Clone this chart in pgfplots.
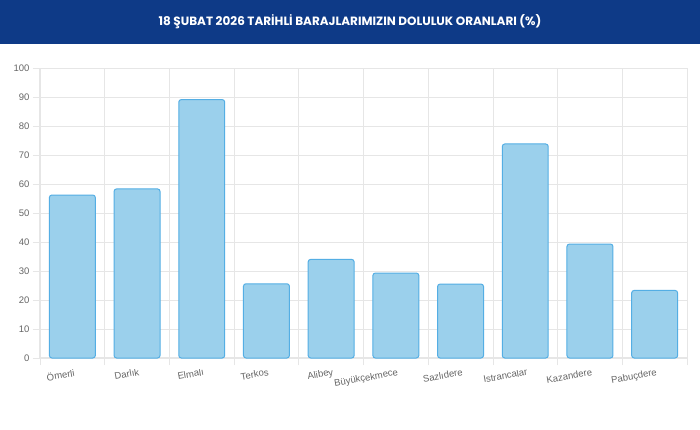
\documentclass[border=0pt]{standalone}
\usepackage{fontspec}
\setmainfont{Liberation Sans}
\newfontfamily\titlefont{Poppins}
\usepackage{pgfplots}
\pgfplotsset{compat=1.18}

\definecolor{titleblue}{RGB}{14,58,135}
\definecolor{barfill}{RGB}{155,208,236}
\definecolor{barline}{RGB}{84,174,228}
\definecolor{gridgray}{RGB}{230,230,230}
\definecolor{labelgray}{RGB}{102,102,102}

\begin{document}
\begin{tikzpicture}
\fill[white] (0pt,0pt) rectangle (700pt,-430pt);
\fill[titleblue] (0pt,0pt) rectangle (700pt,-44pt);
\node[text=white, font=\titlefont\bfseries\fontsize{12}{14}\selectfont] at (350pt,-22pt)
  {18 ŞUBAT 2026 TARİHLİ BARAJLARIMIZIN DOLULUK ORANLARI (\%)};
\begin{axis}[
    at={(40pt,-358pt)}, anchor=south west,
    scale only axis, width=647pt, height=290pt,
    ybar, bar width=0.71,
    xmin=-0.5, xmax=9.5,
    ymin=0, ymax=100,
    ytick={0,10,...,100},
    xtick={-0.5,0.5,1.5,2.5,3.5,4.5,5.5,6.5,7.5,8.5,9.5},
    xticklabels={},
    extra x ticks={0,1,2,3,4,5,6,7,8,9},
    extra x tick labels={Ömerli,Darlık,Elmalı,Terkos,Alibey,Büyükçekmece,Sazlıdere,Istrancalar,Kazandere,Pabuçdere},
    extra x tick style={major tick length=0pt, grid=none,
        tick label style={rotate=10, anchor=north east, yshift=-7pt, xshift=3pt}},
    xmajorgrids, ymajorgrids,
    grid style={gridgray, line width=0.8pt},
    axis x line=bottom, axis y line=left,
    axis line style={-, draw=gridgray, line width=1.2pt},
    tick align=outside, major tick length=7pt,
    tick style={gridgray, line width=0.8pt},
    tick label style={font=\fontsize{9.5}{11}\selectfont, text=labelgray},
    /pgf/number format/assume math mode=true,
    clip=false,
]
\addplot[fill=barfill, draw=barline, line width=1pt, rounded corners=2.5pt]
coordinates {
    (0,56.2) (1,58.3) (2,89.1) (3,25.6) (4,34.0)
    (5,29.3) (6,25.5) (7,73.8) (8,39.3) (9,23.3)
};
\end{axis}
\end{tikzpicture}
\end{document}
